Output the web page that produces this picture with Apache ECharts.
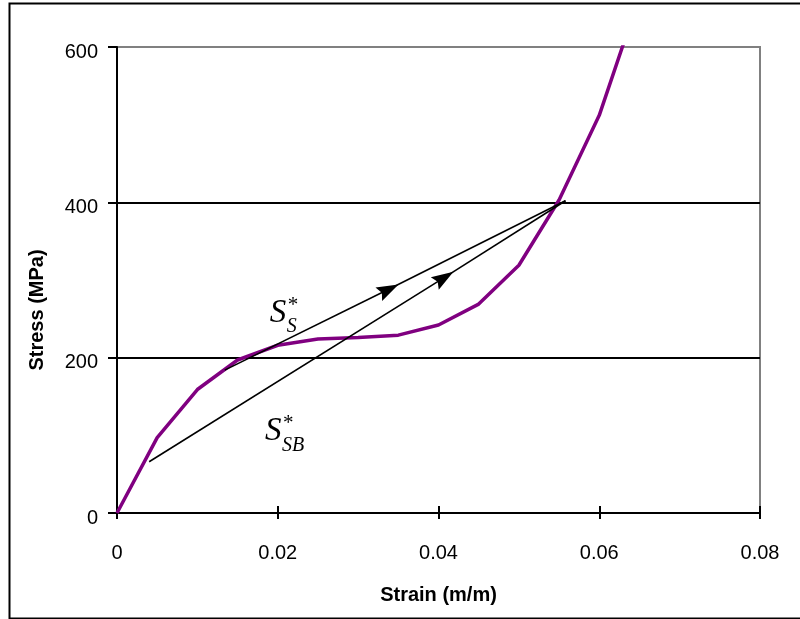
<!DOCTYPE html>
<html>
<head>
<meta charset="utf-8">
<script src="https://cdn.jsdelivr.net/npm/echarts@6/dist/echarts.min.js"></script>
<style>html,body{margin:0;padding:0;background:#fff}#c{width:800px;height:619px}</style>
</head>
<body>
<div id="c"></div>
<script>
// Stress-strain curve
const strain = [0, 0.005, 0.01, 0.015, 0.02, 0.025, 0.03, 0.035, 0.04, 0.045, 0.05, 0.055, 0.06, 0.065];
const stress = [0, 97, 159, 197, 216, 224, 226, 229, 242, 269, 319, 403, 512, 665];
// Secant lines: [start, arrow point, end] as [strain, stress]
const secantS  = [[0.0134, 184], [0.0338, 288], [0.0558, 402]];
const secantSB = [[0.0040, 66], [0.0407, 303], [0.0558, 402]];
// Annotation anchors (data coords of the main letter baseline-left)
const labelS  = {x: 0.0190, y: 244, sub: 'S'};
const labelSB = {x: 0.0184, y: 91, sub: 'SB'};
const xTicks = [0, 0.02, 0.04, 0.06, 0.08];
const yTicks = [0, 200, 400, 600];

const chart = echarts.init(document.getElementById('c'), null, {renderer: 'canvas'});
const fontSans = '"Liberation Sans", Arial, sans-serif';
const fontSerif = '"Liberation Serif", "Times New Roman", serif';
const arrowPath = 'path://M5,0 L10,16 L5,13.5 L0,16 Z';

function secant(arr) {
  return [
    [{coord: arr[0], symbol: 'none'}, {coord: arr[1], symbol: arrowPath}],
    [{coord: arr[1], symbol: 'none'}, {coord: arr[2], symbol: 'none'}]
  ];
}

const option = {
  animation: false,
  backgroundColor: '#fff',
  grid: {left: 117, right: 40, top: 47, bottom: 106, show: true, borderColor: '#808080', borderWidth: 2},
  xAxis: [{
    type: 'value', min: 0, max: 0.08, interval: 0.02,
    axisLine: {show: true, lineStyle: {color: '#000', width: 2}},
    axisTick: {show: true, inside: false, length: 6, lineStyle: {color: '#000', width: 2}},
    axisLabel: {margin: 30, color: '#000', fontSize: 20, fontFamily: fontSans,
      formatter: v => { const i = xTicks.findIndex(t => Math.abs(t - v) < 1e-9); return i >= 0 ? String(xTicks[i]) : ''; }},
    splitLine: {show: false},
    name: 'Strain (m/m)', nameLocation: 'middle', nameGap: 72,
    nameTextStyle: {color: '#000', fontSize: 20, fontWeight: 'bold', fontFamily: fontSans}
  }, {
    type: 'value', min: 0, max: 0.08, interval: 0.02, position: 'bottom',
    axisLine: {show: false},
    axisTick: {show: true, inside: true, length: 7, lineStyle: {color: '#000', width: 2}},
    axisLabel: {show: false}, splitLine: {show: false}
  }],
  yAxis: {
    type: 'value', min: 0, max: 600, interval: 200,
    axisLine: {show: true, lineStyle: {color: '#000', width: 2}},
    axisTick: {show: true, inside: false, length: 9, lineStyle: {color: '#000', width: 2}},
    axisLabel: {margin: 19, color: '#000', fontSize: 20, fontFamily: fontSans,
      verticalAlign: 'top', lineHeight: 10,
      formatter: v => { const i = yTicks.indexOf(v); return i >= 0 ? String(yTicks[i]) : ''; }},
    splitLine: {show: true, lineStyle: {color: ['#000', '#000', '#000', '#808080'], width: 2}}
  },
  series: [{
    type: 'line',
    data: strain.map((s, i) => [s, stress[i]]),
    showSymbol: false, symbol: 'none',
    lineStyle: {color: '#800080', width: 3.5},
    clip: true, z: 3,
    markLine: {
      silent: true, animation: false,
      symbolSize: [15, 22],
      label: {show: false},
      lineStyle: {color: '#000', width: 1.6, type: 'solid'},
      itemStyle: {color: '#000'},
      emphasis: {disabled: true},
      data: secant(secantS).concat(secant(secantSB))
    }
  }],
  graphic: []
};
chart.setOption(option);

function buildLabel(l) {
  const p = chart.convertToPixel({gridIndex: 0}, [l.x, l.y]);
  return [
    {type: 'text', left: p[0], top: p[1] - 27, z: 10, silent: true,
      style: {text: 'S', font: 'italic 33px ' + fontSerif, fill: '#000'}},
    {type: 'text', left: p[0] + 17, top: p[1] - 7, z: 10, silent: true,
      style: {text: l.sub, font: 'italic 20px ' + fontSerif, fill: '#000'}},
    {type: 'text', left: p[0] + 18, top: p[1] - 29, z: 10, silent: true,
      style: {text: '*', font: '21px ' + fontSerif, fill: '#000'}}
  ];
}

const gfx = [
  {type: 'rect', left: 7, top: 1, z: 0, silent: true,
    shape: {width: 800, height: 615}, style: {fill: 'none', stroke: '#000', lineWidth: 2}},
  {type: 'text', z: 10, silent: true, x: 37, y: 310, rotation: Math.PI / 2,
    style: {text: 'Stress (MPa)', font: 'bold 20px ' + fontSans, fill: '#000', align: 'center', verticalAlign: 'middle'}}
].concat(buildLabel(labelS), buildLabel(labelSB));
chart.setOption({graphic: gfx});
</script>
</body>
</html>
